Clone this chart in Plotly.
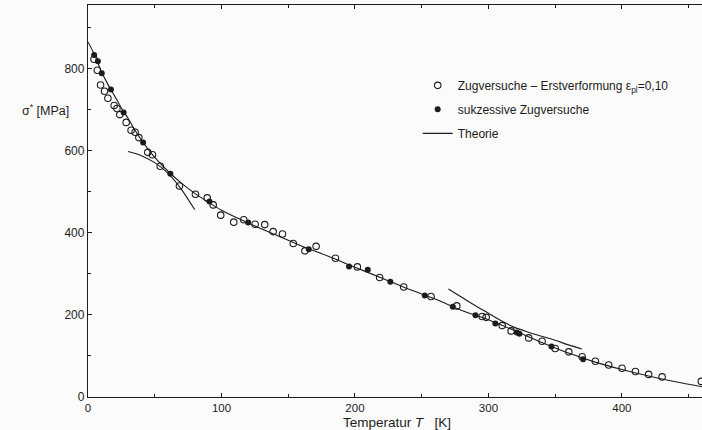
import plotly.graph_objects as go

# Tensile tests, first deformation (eps_pl = 0.10): temperature [K], sigma* [MPa]
t_open = [4.5, 7.0, 9.4, 12.4, 14.9, 19.6, 21.7, 23.8, 28.6, 32.3, 35.3, 38.1,
          44.8, 48.3, 54.1, 68.5, 80.5, 89.3, 93.8, 99.4, 109.2, 116.7, 125.2,
          132.4, 138.7, 145.7, 153.8, 162.5, 170.9, 185.4, 201.8, 218.5, 236.5,
          257.0, 276.3, 295.3, 298.3, 310.3, 317.0, 330.2, 340.2, 350.0, 360.2,
          370.2, 380.1, 390.1, 400.1, 410.1, 420.0, 430.1, 459.5]
s_open = [823, 796, 760, 745, 728, 710, 703, 688, 669, 650, 645, 632,
          596, 590, 562, 514, 494, 485, 468, 443, 426, 432, 421,
          420, 403, 397, 374, 356, 367, 338, 317, 291, 268,
          245, 222, 196, 194, 174, 161, 144, 136, 118, 110,
          98, 87, 78, 70, 62, 55, 49, 38]

# Successive tensile tests
t_fill = [4.6, 7.4, 10.3, 17.2, 26.7, 41.3, 61.7, 91.0, 120.0, 165.4, 195.6,
          209.6, 226.5, 252.3, 273.3, 290.3, 305.2, 321.2, 323.2, 347.2, 370.9]
s_fill = [833, 818, 789, 749, 693, 620, 544, 476, 425, 360, 318,
          310, 281, 247, 220, 199, 179, 157, 154, 123, 92]

# Theory: main curve
t_theo = [0, 5, 10, 15, 20, 25, 30, 35, 40, 45, 50, 60, 70, 80, 90, 100, 120,
          140, 160, 180, 200, 220, 240, 260, 280, 300, 320, 340, 360, 380, 400,
          420, 440, 460]
s_theo = [865, 833, 793, 761, 733, 704, 679, 651, 626, 604, 584, 550, 521, 496,
          475, 455, 424, 396, 368, 343, 316, 290, 263, 239, 211, 188, 161, 133,
          107, 85, 67, 51, 37, 25]

# Theory: low-temperature branch
t_low = [30, 40, 50, 60, 70, 80]
s_low = [598, 588, 571, 545, 506, 456]

# Theory: high-temperature branch
t_high = [270, 280, 290, 300, 310, 320, 330, 340, 350, 360, 370]
s_high = [263, 243, 223, 204, 185, 169, 158, 148, 138, 127, 117]

x_ticks = [0, 100, 200, 300, 400]
y_ticks = [0, 200, 400, 600, 800]

INK = "#1c1c1c"
FONT = "Liberation Sans"

fig = go.Figure()

line_style = dict(color=INK, width=1.1, shape="spline", smoothing=0.8)

fig.add_trace(go.Scatter(x=t_low, y=s_low, mode="lines", line=line_style,
                         showlegend=False, hoverinfo="skip"))
fig.add_trace(go.Scatter(x=t_high, y=s_high, mode="lines", line=line_style,
                         showlegend=False, hoverinfo="skip"))

fig.add_trace(go.Scatter(
    x=t_open, y=s_open, mode="markers", legendgroup="a", legendrank=1,
    name="Zugversuche \u2013 Erstverformung \u03b5<sub>pl</sub>=0,10",
    marker=dict(symbol="circle-open", size=6.5, color=INK, line=dict(width=1.1))))
fig.add_trace(go.Scatter(
    x=t_fill, y=s_fill, mode="markers", legendgroup="b", legendrank=2,
    name="sukzessive Zugversuche",
    marker=dict(symbol="circle", size=6, color=INK)))
fig.add_trace(go.Scatter(
    x=t_theo, y=s_theo, mode="lines", legendgroup="c", legendrank=3,
    name="Theorie", line=line_style))

fig.update_layout(
    width=702, height=430,
    margin=dict(l=88, r=0, t=5, b=33),
    paper_bgcolor="#fbfbfb", plot_bgcolor="#fbfbfb",
    font=dict(family=FONT, size=11.5, color=INK),
    legend=dict(x=0.537, y=0.832, xanchor="left", yanchor="top",
                bgcolor="rgba(0,0,0,0)", tracegroupgap=5, itemwidth=30,
                font=dict(family=FONT, size=12, color=INK)),
    xaxis=dict(range=[0, 460], tickvals=x_ticks, ticks="inside", ticklen=4,
               tickwidth=1, tickcolor=INK, showline=True, linecolor=INK,
               linewidth=1.3, mirror="ticks", showgrid=False, zeroline=False,
               tickfont=dict(size=11.5),
               minor=dict(dtick=50, tick0=0, ticks="inside", ticklen=3,
                          tickcolor=INK, showgrid=False)),
    yaxis=dict(range=[0, 955], tickvals=y_ticks, ticks="inside", ticklen=4,
               tickwidth=1, tickcolor=INK, showline=True, linecolor=INK,
               linewidth=1.3, showgrid=False, zeroline=False,
               tickfont=dict(size=12),
               minor=dict(dtick=100, tick0=0, ticks="inside", ticklen=3,
                          tickcolor=INK, showgrid=False)),
    annotations=[
        dict(text="\u03c3<sup>*</sup> [MPa]", xref="paper", yref="paper",
             x=-0.07, y=0.732, xanchor="center", yanchor="middle",
             showarrow=False, font=dict(family=FONT, size=12.5, color=INK)),
        dict(text="Temperatur <i>T</i>\u00a0\u00a0\u00a0[K]", xref="paper",
             yref="paper", x=0.503, y=-0.066, xanchor="center",
             yanchor="middle", showarrow=False,
             font=dict(family=FONT, size=13.5, color=INK)),
    ],
)

fig.write_html("out.html")
